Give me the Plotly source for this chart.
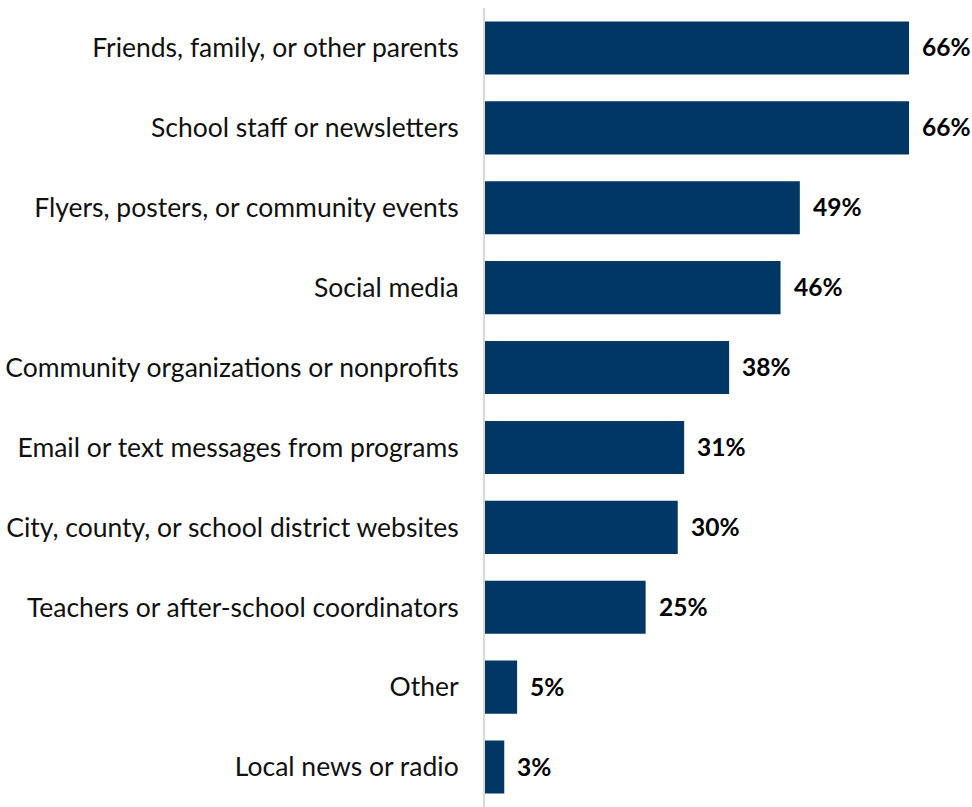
import plotly.graph_objects as go

# Where families heard about programs (share of respondents, %)
sources = [
    "Friends, family, or other parents",
    "School staff or newsletters",
    "Flyers, posters, or community events",
    "Social media",
    "Community organizations or nonprofits",
    "Email or text messages from programs",
    "City, county, or school district websites",
    "Teachers or after-school coordinators",
    "Other",
    "Local news or radio",
]
shares = [66, 66, 49, 46, 38, 31, 30, 25, 5, 3]

BAR_COLOR = "#003764"
FONT = "Lato"

fig = go.Figure(
    go.Bar(
        x=shares,
        y=sources,
        orientation="h",
        marker=dict(color=BAR_COLOR, line=dict(width=0)),
        hoverinfo="skip",
    )
)

# Bold percentage labels just past the end of each bar
for src, val in zip(sources, shares):
    fig.add_annotation(
        x=val, y=src, text=f"<b>{val}%</b>",
        xanchor="left", yanchor="middle", xshift=11, yshift=1,
        showarrow=False, font=dict(family=FONT, size=24.5, color="#000000"),
    )

fig.update_layout(
    width=972, height=807,
    margin=dict(l=485, r=0, t=8, b=0),
    paper_bgcolor="white", plot_bgcolor="white",
    showlegend=False,
    bargap=0.335,
    font=dict(family=FONT, size=26, color="#111111"),
)
fig.update_xaxes(range=[0, 75.8], visible=False, fixedrange=True)
fig.update_yaxes(
    autorange="reversed",
    showline=True, linecolor="#d9d9d9", linewidth=2,
    showgrid=False, ticks="", ticklabelstandoff=19,
    tickfont=dict(family=FONT, size=26.5, color="#111111"),
)

fig.write_html("out.html")
